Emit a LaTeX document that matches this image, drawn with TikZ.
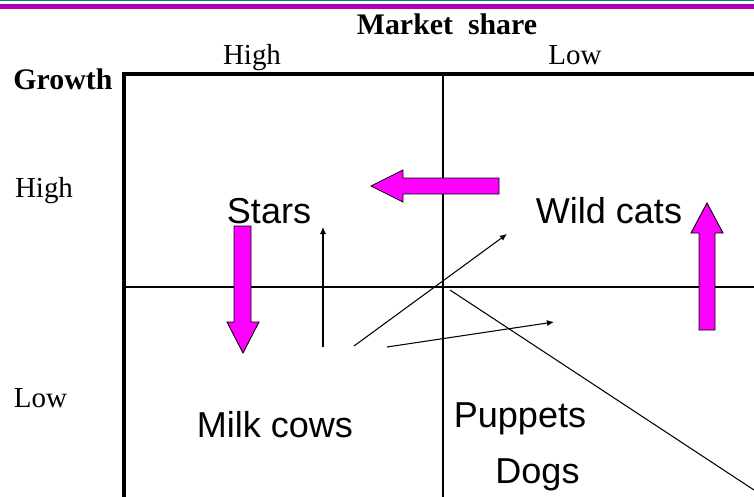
\documentclass[tikz,border=0pt]{standalone}
\usepackage{fontspec}
\setmainfont{Liberation Serif}
\setsansfont{Liberation Sans}
\usetikzlibrary{arrows.meta}
\definecolor{mmteal}{RGB}{0,128,128}
\definecolor{mmpurple}{RGB}{180,0,180}
\definecolor{mmmagenta}{RGB}{255,0,255}

\begin{document}
\begin{tikzpicture}[x=0.02cm, y=-0.02cm,
        frame/.style={line width=2pt},
        divider/.style={line width=0.6pt},
        move/.style={-{Latex[length=4pt,width=3.5pt]}, line width=0.6pt},
        bigarrow/.style={draw=black, line width=0.5pt, fill=mmmagenta},
        quad/.style={font=\sffamily\fontsize{20.5}{24}\selectfont, inner sep=0pt, anchor=base},
        axis/.style={font=\fontsize{16.5}{20}\selectfont, inner sep=0pt, anchor=base},
        axistitle/.style={font=\bfseries\fontsize{17}{20}\selectfont, inner sep=0pt, anchor=base}
      ]
      \useasboundingbox (0,0) rectangle (754,497);

      % top rule
      \fill[mmteal] (0,0) rectangle (754,1.5);
      \shade[left color=mmpurple, middle color=mmmagenta, right color=mmpurple] (0,4) rectangle (754,8);

      % axis titles
      \node[axistitle] (share) at (447,34) {Market\ \ share};
      \node[axis] (sharehigh) at (252,64) {High};
      \node[axis] (sharelow) at (575,64) {Low};
      \node[axistitle] (growth) at (63,89) {Growth};
      \node[axis] (growthhigh) at (44,197) {High};
      \node[axis] (growthlow) at (40.5,407) {Low};

      % matrix
      \draw[frame] (124,497) -- (124,74) -- (754,74);
      \draw[divider] (443,74) -- (443,497);
      \draw[divider] (124,287) -- (754,287);

      % quadrants
      \node[quad] (stars) at (269,223) {Stars};
      \node[quad] (cats) at (609,223) {Wild cats};
      \node[quad] (cows) at (275,437) {Milk cows};
      \node[quad] (puppets) at (520,427) {Puppets};
      \node[quad] (dogs) at (537.5,483) {Dogs};

      % block arrows
      \draw[bigarrow] (499,178) -- (403,178) -- (403,170) -- (371,186) -- (403,202) -- (403,194) -- (499,194) -- cycle;
      \draw[bigarrow] (234,226) -- (251,226) -- (251,322) -- (259,322) -- (243,353) -- (227,322) -- (234,322) -- cycle;
      \draw[bigarrow] (699,330) -- (699,233) -- (691,233) -- (707,203) -- (723,233) -- (715,233) -- (715,330) -- cycle;

      % moves
      \coordinate (up0) at (323,347);
      \coordinate (up1) at (323,227);
      \coordinate (diag0) at (354,346);
      \coordinate (diag1) at (507,234);
      \coordinate (flat0) at (387,347);
      \coordinate (flat1) at (554,322);
      \coordinate (drop0) at (450,290);
      \coordinate (drop1) at (754,490);
      \draw[move] (up0) -- (up1);
      \draw[move] (diag0) -- (diag1);
      \draw[move] (flat0) -- (flat1);
      \draw[divider] (drop0) -- (drop1);
    \end{tikzpicture}
\end{document}
